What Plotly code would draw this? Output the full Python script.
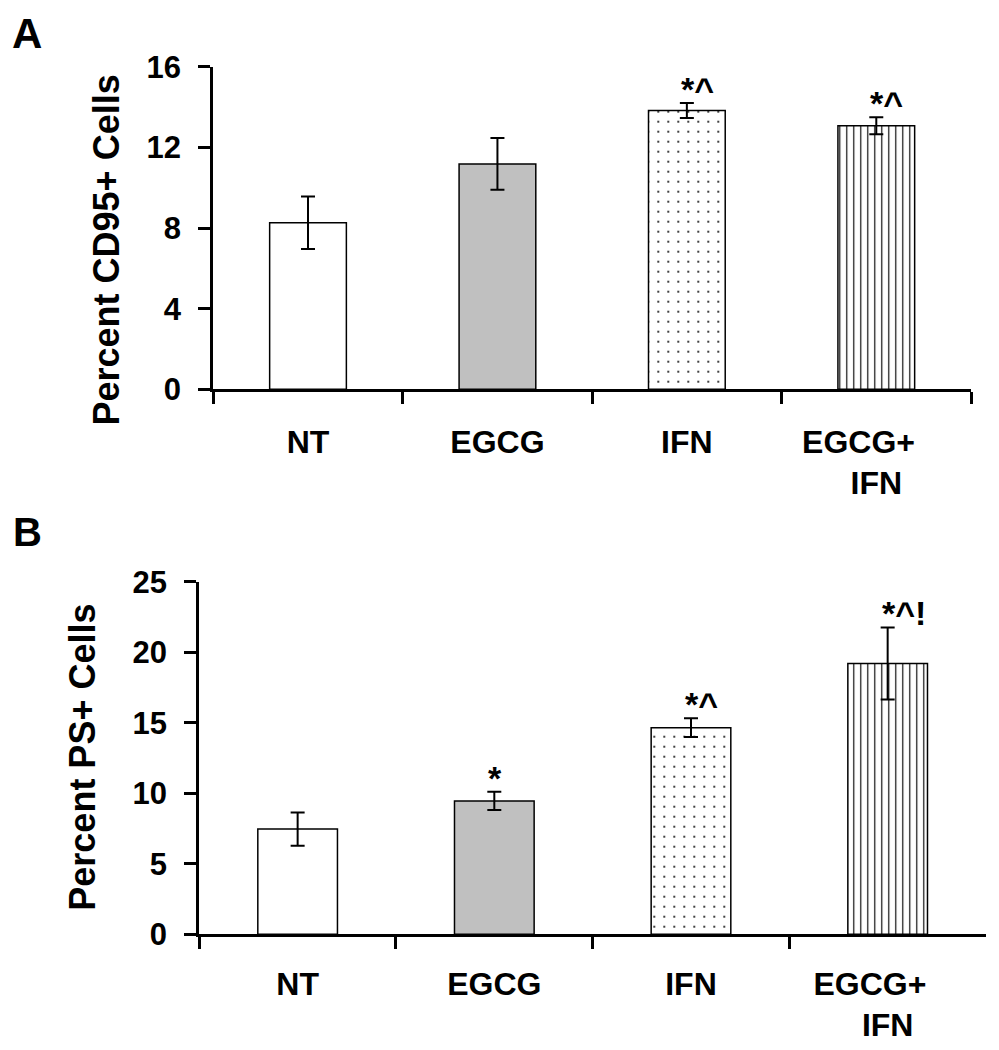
import plotly.graph_objects as go

# ---------------- data ----------------
categories = ["NT", "EGCG", "IFN", "EGCG+IFN"]
tick_labels = ["NT", "EGCG", "IFN", "EGCG+\u00a0\u00a0\u00a0\u00a0<br>IFN"]

cd95_mean = [8.26, 11.18, 13.83, 13.07]
cd95_err = [1.30, 1.28, 0.37, 0.42]
cd95_sig = ["", "", "*^", "*^"]

ps_mean = [7.46, 9.45, 14.65, 19.2]
ps_err = [1.18, 0.65, 0.67, 2.56]
ps_sig = ["", "*", "*^", "*^!"]

y_ticks_a = [0, 4, 8, 12, 16]
y_ticks_b = [0, 5, 10, 15, 20, 25]

panel_letters = ["A", "B"]
y_titles = ["Percent CD95+ Cells", "Percent PS+ Cells"]

# ---------------- styles ----------------
fill_colors = ["#ffffff", "#c0c0c0", "#ffffff", "#ffffff"]
pattern_shapes = ["", "", ".", "|"]
pattern_sizes = [8, 8, 10, 7]
pattern_solid = [0.3, 0.3, 0.03, 0.16]

FONT = "Liberation Sans, Arial, sans-serif"
OFF = 8                      # page body margin
W, H = 999 - 2 * OFF, 1050 - 2 * OFF


def px_x(v):
    return (v - OFF) / W


def px_y(v):
    return 1 - (v - OFF) / H


def bar_traces(means, errs, xa, ya):
    traces = []
    for i, cat in enumerate(categories):
        marker = dict(color=fill_colors[i], line=dict(color="black", width=1.5))
        if pattern_shapes[i]:
            marker["pattern"] = dict(shape=pattern_shapes[i], size=pattern_sizes[i],
                                     solidity=pattern_solid[i], fgcolor="black",
                                     bgcolor=fill_colors[i], fillmode="replace")
        traces.append(go.Bar(
            x=[cat], y=[means[i]], xaxis=xa, yaxis=ya, width=0.405,
            marker=marker,
            error_y=dict(type="data", array=[errs[i]], visible=True,
                         color="black", thickness=2, width=7),
            showlegend=False, hoverinfo="skip",
        ))
    return traces


fig = go.Figure()
for t in bar_traces(cd95_mean, cd95_err, "x", "y"):
    fig.add_trace(t)
for t in bar_traces(ps_mean, ps_err, "x2", "y2"):
    fig.add_trace(t)

xcommon = dict(
    type="category", categoryorder="array", categoryarray=categories,
    tickmode="array", tickvals=categories, ticktext=tick_labels,
    tickson="boundaries", ticks="outside", ticklen=12, tickwidth=3,
    tickcolor="black", showline=True, linecolor="black", linewidth=3,
    showgrid=False, zeroline=False, fixedrange=True, automargin=False,
    tickfont=dict(family=FONT, size=32, color="black", weight="bold"),
)
ycommon = dict(
    ticks="outside", ticklen=12, tickwidth=3, tickcolor="black",
    showline=True, linecolor="black", linewidth=3, showgrid=False,
    zeroline=False, fixedrange=True, automargin=False,
    tickfont=dict(family=FONT, size=31, color="black", weight="bold"),
    ticklabelstandoff=11,
)

fig.update_layout(
    width=W, height=H, margin=dict(l=0, r=0, t=0, b=0, autoexpand=False),
    paper_bgcolor="white", plot_bgcolor="white", barmode="overlay",
    xaxis=dict(domain=[px_x(213.3), px_x(971)], anchor="y",
               ticklabelstandoff=22, **xcommon),
    yaxis=dict(domain=[px_y(389.3), px_y(66.7)], anchor="x",
               range=[0, 16], tickvals=y_ticks_a, **ycommon),
    xaxis2=dict(domain=[px_x(199.3), px_x(986)], anchor="y2",
                ticklabelstandoff=19, **xcommon),
    yaxis2=dict(domain=[px_y(934.2), px_y(581.7)], anchor="x2",
                range=[0, 25], tickvals=y_ticks_b, **ycommon),
)

sig_font = dict(family=FONT, size=34, color="black", weight="bold")
annotations = []
for cat, m, e, s in zip(categories, cd95_mean, cd95_err, cd95_sig):
    if s:
        annotations.append(dict(x=cat, y=m + e, xref="x", yref="y", text=s,
                                showarrow=False, xanchor="left", yanchor="bottom",
                                xshift=-8, yshift=-7, font=sig_font))
for cat, m, e, s in zip(categories, ps_mean, ps_err, ps_sig):
    if s:
        annotations.append(dict(x=cat, y=m + e, xref="x2", yref="y2", text=s,
                                showarrow=False, xanchor="left", yanchor="bottom",
                                xshift=-8, yshift=-7, font=sig_font))

title_font = dict(family=FONT, size=36, color="black", weight="bold")
annotations.append(dict(x=px_x(105.5), y=px_y(250), xref="paper", yref="paper",
                        text=y_titles[0], textangle=-90, showarrow=False,
                        xanchor="center", yanchor="middle", font=title_font))
annotations.append(dict(x=px_x(81.7), y=px_y(757), xref="paper", yref="paper",
                        text=y_titles[1], textangle=-90, showarrow=False,
                        xanchor="center", yanchor="middle", font=title_font))
annotations.append(dict(x=px_x(27), y=px_y(8.5), xref="paper", yref="paper",
                        text=panel_letters[0], showarrow=False,
                        xanchor="center", yanchor="top",
                        font=dict(family=FONT, size=42, color="black", weight="bold")))
annotations.append(dict(x=px_x(27.5), y=px_y(532), xref="paper", yref="paper",
                        text=panel_letters[1], showarrow=False,
                        xanchor="center", yanchor="middle",
                        font=dict(family=FONT, size=40, color="black", weight="bold")))

fig.update_layout(annotations=annotations)
fig.write_html("out.html")
